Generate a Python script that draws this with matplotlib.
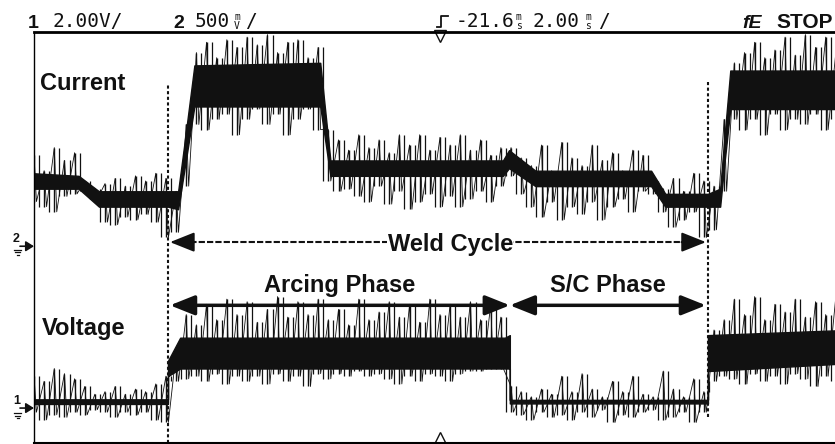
import numpy as np
import matplotlib.pyplot as plt
from matplotlib.lines import Line2D

plt.rcParams['font.family'] = ['Liberation Sans', 'DejaVu Sans']

# ---------------------------
# Scope trace data (time in ms, y in screen divisions, 0 = bottom)
# ---------------------------

sample_t = np.linspace(0, 20, 81)  # 0.25 ms spacing

cur_hi = [5.6, 5.3, 5.75, 5.5, 5.65, 5.1, 4.95, 5.05, 5.15, 5.0,
          5.2, 5.1, 5.25, 5.15, 4.9, 6.2, 7.6, 7.8, 7.5, 7.85,
          7.7, 7.9, 7.75, 7.95, 7.6, 7.8, 7.85, 7.5, 7.7, 6.1,
          5.9, 5.7, 6.0, 5.75, 5.9, 5.65, 6.0, 5.8, 6.0, 5.7,
          5.95, 5.8, 6.0, 5.7, 5.9, 5.6, 5.75, 5.75, 5.55, 5.4,
          5.8, 5.3, 5.85, 5.55, 5.4, 5.8, 5.5, 5.65, 5.3, 5.7,
          5.6, 5.1, 4.95, 5.15, 4.9, 5.25, 5.1, 5.0, 6.3, 7.4,
          7.6, 7.8, 7.5, 7.65, 7.9, 7.55, 7.95, 7.7, 7.9, 7.6, 7.8]
cur_lo = [4.7, 4.6, 4.5, 4.8, 4.85, 4.9, 4.75, 4.3, 4.25, 4.4,
          4.35, 4.45, 4.3, 4.0, 4.1, 5.0, 6.2, 6.1, 6.3, 6.4,
          6.0, 6.3, 6.5, 6.2, 6.4, 6.0, 6.3, 6.5, 6.1, 5.1,
          4.9, 4.95, 4.8, 4.7, 5.0, 4.65, 4.9, 4.55, 4.7, 4.85,
          4.6, 4.8, 4.6, 4.75, 4.9, 4.7, 5.0, 5.2, 4.85, 4.6,
          4.4, 4.7, 4.35, 4.6, 4.45, 4.7, 4.35, 4.6, 4.75, 4.5,
          4.9, 4.85, 4.5, 4.2, 4.35, 4.5, 4.0, 4.15, 4.9, 6.3,
          6.1, 6.3, 6.0, 6.4, 6.1, 6.3, 6.2, 6.4, 6.1, 6.3, 6.2]

volt_hi = [1.3, 1.2, 1.45, 1.35, 1.25, 1.1, 0.95, 1.0, 1.1, 0.95,
           1.05, 1.0, 1.15, 1.3, 1.75, 2.5, 2.3, 2.7, 2.4, 2.8,
           2.5, 2.75, 2.35, 2.6, 2.85, 2.45, 2.75, 2.5, 2.8, 2.4,
           2.6, 2.3, 2.8, 2.4, 2.55, 2.75, 2.45, 2.7, 2.35, 2.8,
           2.5, 2.7, 2.45, 2.75, 2.4, 2.7, 2.45, 1.1, 1.0, 0.9,
           1.05, 0.95, 1.3, 1.0, 1.35, 1.05, 0.9, 1.2, 1.0, 1.3,
           0.95, 0.9, 1.4, 1.05, 0.9, 1.25, 1.0, 2.2, 2.4, 2.8,
           2.5, 2.85, 2.4, 2.7, 2.55, 2.8, 2.45, 2.75, 2.5, 2.85, 2.6]
volt_lo = [0.6, 0.45, 0.55, 0.5, 0.6, 0.55, 0.65, 0.6, 0.5, 0.6,
           0.55, 0.6, 0.45, 0.4, 1.2, 1.25, 1.3, 1.2, 1.35, 1.15,
           1.3, 1.2, 1.3, 1.15, 1.35, 1.2, 1.3, 1.1, 1.35, 1.25,
           1.35, 1.3, 1.4, 1.3, 1.35, 1.25, 1.15, 1.3, 1.2, 1.35,
           1.3, 1.2, 1.35, 1.4, 1.4, 1.45, 1.45, 0.6, 0.55, 0.45,
           0.6, 0.5, 0.55, 0.45, 0.6, 0.5, 0.65, 0.4, 0.55, 0.5,
           0.6, 0.65, 0.45, 0.5, 0.6, 0.4, 0.6, 1.2, 1.3, 1.25,
           1.15, 1.35, 1.2, 1.3, 1.15, 1.35, 1.25, 1.1, 1.3, 1.2, 1.3]

# dense core of each trace (breakpoints)
cur_core_t = [0, 1.1, 1.6, 3.3, 3.55, 3.7, 3.95, 7.05, 7.3, 11.55,
              11.7, 12.35, 15.2, 15.55, 16.6, 16.9, 17.0, 17.15, 20]
cur_core_lo = [4.95, 4.95, 4.6, 4.6, 4.55, 5.3, 6.55, 6.55, 5.2, 5.2,
               5.35, 5.0, 5.0, 4.6, 4.6, 4.6, 5.4, 6.5, 6.5]
cur_core_hi = [5.25, 5.2, 4.9, 4.9, 4.9, 5.8, 7.35, 7.4, 5.5, 5.5,
               5.7, 5.3, 5.3, 4.85, 4.85, 4.95, 5.9, 7.25, 7.25]

volt_core_t = [0, 3.3, 3.3, 3.6, 11.6, 11.72, 11.72, 16.6, 16.6, 20]
volt_core_lo = [0.76, 0.76, 1.3, 1.45, 1.45, 1.45, 0.77, 0.77, 1.4, 1.55]
volt_core_hi = [0.85, 0.85, 1.6, 2.05, 2.05, 2.1, 0.84, 0.84, 2.1, 2.2]

# phase boundaries (ms): weld start, arcing -> short circuit, weld end
phase_edges = [3.3, 11.72, 16.6]

ch2_gnd = 3.83
ch1_gnd = 0.68

ink = '#111111'


def draw_trace(ax, core_t, core_lo, core_hi, hi, lo):
    ax.fill_between(core_t, core_lo, core_hi, color=ink, lw=1)
    ax.vlines(sample_t, lo, hi, color=ink, lw=1.0)
    # second comb between samples, mixing neighbouring extremes
    ax.vlines(sample_t[:-1] + 0.125, lo[1:], hi[:-1], color=ink, lw=0.9)
    # thin zigzag joining the extremes so the comb reads as noise
    tt = np.column_stack([sample_t, sample_t + 0.06]).ravel()
    yy = np.column_stack([hi, lo]).ravel()
    ax.plot(tt, yy, color=ink, lw=0.6)


# ---------------------------
# Figure
# ---------------------------

fig = plt.figure(figsize=(8.35, 4.44), dpi=100)
ax = fig.add_axes([34 / 835, 1 / 444, 812 / 835, 411 / 444])
ax.set_xlim(0, 20)
ax.set_ylim(0, 8)
ax.set_xticks([])
ax.set_yticks([])
ax.spines['right'].set_visible(False)
ax.spines['top'].set_linewidth(2)
ax.spines['bottom'].set_linewidth(1.5)
ax.spines['left'].set_linestyle((0, (2, 1)))
ax.spines['left'].set_linewidth(1)

draw_trace(ax, cur_core_t, cur_core_lo, cur_core_hi, cur_hi, cur_lo)
draw_trace(ax, volt_core_t, volt_core_lo, volt_core_hi, volt_hi, volt_lo)

# phase markers
ax.vlines(phase_edges[0], 0, 7.0, color=ink, lw=1.5, linestyles=(0, (1.5, 1.2)))
ax.vlines(phase_edges[2], 0.5, 7.02, color=ink, lw=1.5, linestyles=(0, (1.5, 1.2)))

t0, tm, t1 = phase_edges[0] + 0.05, phase_edges[1], phase_edges[2] - 0.05
weld_y = 3.91
phase_y = 2.68
head = dict(arrowstyle='-|>,head_length=0.75,head_width=0.3', color=ink,
            lw=1.5, shrinkA=0, shrinkB=0, mutation_scale=20)
ax.plot([t0 + 0.3, t1 - 0.3], [weld_y, weld_y], color=ink, lw=1.5,
        linestyle=(0, (3, 1)))
ax.annotate('', xy=(t0, weld_y), xytext=(t0 + 0.6, weld_y), arrowprops=head)
ax.annotate('', xy=(t1, weld_y), xytext=(t1 - 0.6, weld_y), arrowprops=head)
ax.text((t0 + t1) / 2 + 0.3, weld_y, 'Weld Cycle', fontsize=17, fontweight='bold',
        ha='center', va='center_baseline', color=ink,
        bbox=dict(facecolor='white', edgecolor='none', pad=0.5))

both = dict(arrowstyle='<|-|>,head_length=0.75,head_width=0.3', color=ink,
            lw=2.5, shrinkA=0, shrinkB=0, mutation_scale=20)
ax.annotate('', xy=(t0, phase_y), xytext=(tm, phase_y), arrowprops=both)
ax.annotate('', xy=(tm, phase_y), xytext=(t1, phase_y), arrowprops=both)
ax.text((t0 + tm) / 2, 2.94, 'Arcing Phase', fontsize=17, fontweight='bold',
        ha='center', va='baseline', color=ink)
ax.text((tm + t1) / 2, 2.94, 'S/C Phase', fontsize=17, fontweight='bold',
        ha='center', va='baseline', color=ink)

ax.text(0.15, 6.87, 'Current', fontsize=17, fontweight='bold', va='baseline', color=ink)
ax.text(0.2, 2.1, 'Voltage', fontsize=17, fontweight='bold', va='baseline', color=ink)

# trigger position markers
ax.plot(10, 7.93, marker='v', ms=8, mfc='white', mec=ink, mew=1, clip_on=False)
ax.plot(10, 0.1, marker='^', ms=8, mfc='white', mec=ink, mew=1, clip_on=False)

# channel ground markers
for label, g in [('2', ch2_gnd), ('1', ch1_gnd)]:
    ax.annotate('', xy=(0, g), xycoords=('axes fraction', 'data'),
                xytext=(-14, 0), textcoords='offset pixels',
                arrowprops=dict(arrowstyle='-|>,head_length=0.4,head_width=0.25',
                                color=ink, lw=1.2, shrinkA=0, shrinkB=0,
                                mutation_scale=12),
                annotation_clip=False)
    ax.annotate(label, xy=(0, g), xycoords=('axes fraction', 'data'),
                xytext=(-21, 4), textcoords='offset pixels',
                fontsize=9, fontweight='bold', color=ink, annotation_clip=False)


def P(x, y):
    return x / 835, 1 - y / 444


# little ground symbols under the channel numbers
for gy in [250, 413]:
    for k, w in enumerate([3.5, 2.2, 1]):
        fig.add_artist(Line2D([(17.5 - w) / 835, (17.5 + w) / 835],
                              [1 - (gy + 2.5 * k) / 444] * 2, color=ink, lw=0.9))

# ---------------------------
# Header line
# ---------------------------

mono = ['DejaVu Sans Mono']
fig.text(*P(28, 28), '1', fontsize=14, fontweight='bold', color=ink)
fig.text(*P(52, 27), '2.00V/', fontsize=14, family=mono, color=ink)
fig.text(*P(173, 28), '2', fontsize=14, fontweight='bold', color=ink)
fig.text(*P(195, 27), '500', fontsize=14, family=mono, color=ink)
fig.text(*P(234, 29), 'm\nV', fontsize=7, family=mono, color=ink, linespacing=0.85)
fig.text(*P(245, 27), '/', fontsize=14, family=mono, color=ink)

fig.add_artist(Line2D([437 / 835, 441 / 835, 441 / 835, 448 / 835],
                      [1 - 27 / 444, 1 - 27 / 444, 1 - 16 / 444, 1 - 16 / 444],
                      color=ink, lw=1.3))
fig.text(*P(456, 27), '-21.6', fontsize=14, family=mono, color=ink)
fig.text(*P(516, 29), 'm\ns', fontsize=7, family=mono, color=ink, linespacing=0.85)
fig.text(*P(532, 27), '2.00', fontsize=14, family=mono, color=ink)
fig.text(*P(585, 29), 'm\ns', fontsize=7, family=mono, color=ink, linespacing=0.85)
fig.text(*P(598, 27), '/', fontsize=14, family=mono, color=ink)
fig.text(*P(742, 28), 'fE', fontsize=14, fontweight='bold', color=ink, style='italic')
fig.text(*P(776, 28), 'STOP', fontsize=15, fontweight='bold', color=ink)

fig.savefig('out.png', dpi=100)
